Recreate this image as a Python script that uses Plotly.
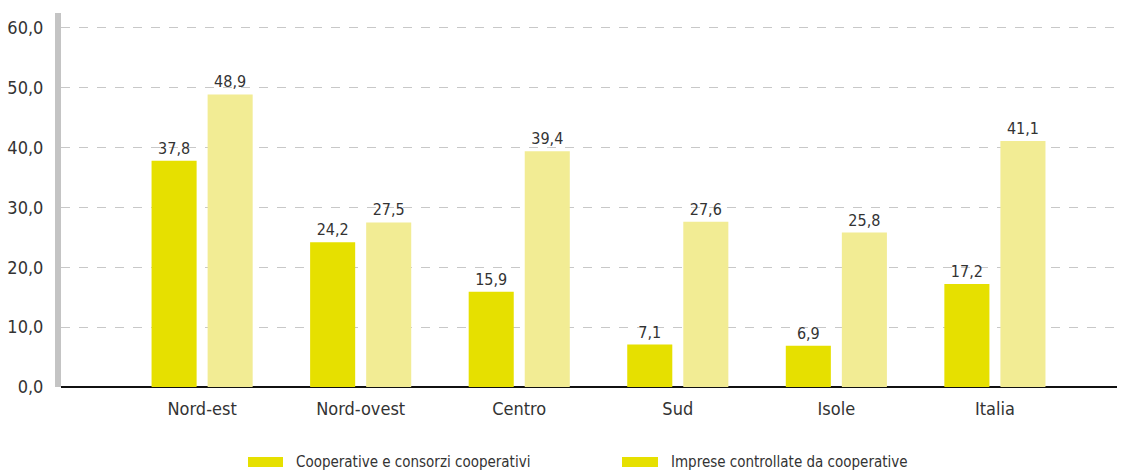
import plotly.graph_objects as go

regions = ["Nord-est", "Nord-ovest", "Centro", "Sud", "Isole", "Italia"]
cooperative = [37.8, 24.2, 15.9, 7.1, 6.9, 17.2]
imprese = [48.9, 27.5, 39.4, 27.6, 25.8, 41.1]
series_names = ["Cooperative e consorzi cooperativi", "Imprese controllate da cooperative"]
y_ticks = [0, 10, 20, 30, 40, 50, 60]

DARK = "#E6E000"
LIGHT = "#F2EC94"
TEXT = "#333333"
FONT = "'DejaVu Sans Condensed', 'Liberation Sans Narrow', 'Roboto', sans-serif"

W, H = 1131, 470
ML, MR, MT, MB = 61, 14, 13, 83

fig = go.Figure()
for name, vals, col in [(series_names[0], cooperative, DARK), (series_names[1], imprese, LIGHT)]:
    fig.add_trace(go.Bar(
        x=regions, y=vals, name=name, marker=dict(color=col, line=dict(width=0)),
        texttemplate="%{y:.1f}", textposition="outside", cliponaxis=False,
        textfont=dict(family=FONT, size=16, color=TEXT), showlegend=False,
    ))

# legend drawn as wide swatches with labels beneath the chart
pw = W - ML - MR
ph = H - MT - MB
def px_x(x):
    return (x - ML) / pw
def px_y(y):
    return (H - MB - y) / ph

for x0, x1, label in [(248, 283, series_names[0]), (622, 658, series_names[1])]:
    fig.add_shape(type="rect", xref="paper", yref="paper",
                  x0=px_x(x0), x1=px_x(x1), y0=px_y(467), y1=px_y(457),
                  fillcolor=DARK, line=dict(width=0))
    fig.add_annotation(xref="paper", yref="paper", x=px_x(x1 + 11), y=px_y(462),
                       text=label, showarrow=False, xanchor="left", yanchor="middle",
                       font=dict(family=FONT, size=15, color=TEXT))

fig.update_layout(
    width=W, height=H,
    margin=dict(l=ML, r=MR, t=MT, b=MB),
    paper_bgcolor="white", plot_bgcolor="white",
    separators=",.",
    barmode="group", bargap=0.293, bargroupgap=0.196,
    font=dict(family=FONT, color=TEXT),
)
fig.update_xaxes(
    range=[-0.89, 5.77], showgrid=False, showline=False, zeroline=False,
    ticks="", ticklabelstandoff=9, automargin=False,
    tickfont=dict(family=FONT, size=18, color=TEXT),
)
fig.update_yaxes(
    range=[0, 62.5], tickvals=y_ticks, tickformat=".1f",
    showgrid=True, gridcolor="#C8C8C8", griddash="dash", gridwidth=1,
    zeroline=True, zerolinecolor="#111111", zerolinewidth=2,
    showline=True, linecolor="#C4C4C4", linewidth=6,
    ticks="", ticklabelstandoff=8, automargin=False,
    tickfont=dict(family=FONT, size=18, color=TEXT),
)

fig.write_html("out.html")
